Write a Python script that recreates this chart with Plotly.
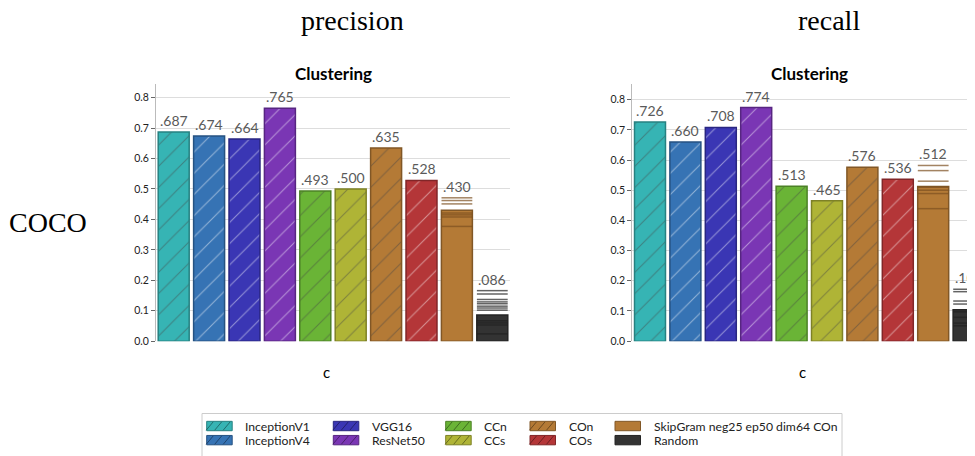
import plotly.graph_objects as go

# ---------------- data ----------------
categories = ["InceptionV1", "InceptionV4", "VGG16", "ResNet50", "CCn", "CCs",
              "COn", "COs", "SkipGram neg25 ep50 dim64 COn", "Random"]
precision = [0.687, 0.674, 0.664, 0.765, 0.493, 0.500, 0.635, 0.528, 0.430, 0.086]
recall = [0.726, 0.660, 0.708, 0.774, 0.513, 0.465, 0.576, 0.536, 0.512, 0.104]

skipgram_precision_runs = [0.471, 0.462, 0.451, 0.421, 0.415, 0.408, 0.377]
random_precision_runs = [0.166, 0.155, 0.137, 0.129, 0.123, 0.115, 0.109, 0.102,
                         0.067, 0.060, 0.053, 0.024]
skipgram_recall_runs = [0.582, 0.565, 0.530, 0.510, 0.500, 0.489, 0.439]
random_recall_runs = [0.172, 0.164, 0.133, 0.123, 0.097, 0.079, 0.060, 0.051]

hatched = [True, True, True, True, True, True, True, True, False, False]

# ---------------- styles ----------------
fill_colors = ["#36b4b4", "#3673b4", "#3a36b4", "#7a36b4", "#6ab436", "#afb436",
               "#b47a36", "#b43638", "#b47a36", "#333333"]


def darker(hexcol, f):
    r, g, b = int(hexcol[1:3], 16), int(hexcol[3:5], 16), int(hexcol[5:7], 16)
    return "#%02x%02x%02x" % (int(r * f), int(g * f), int(b * f))


edge_colors = [darker(c, 0.72) for c in fill_colors]
hatch_colors = [darker(c, 0.5) for c in fill_colors]

# the page body adds an 8px margin; the figure starts at (8, 8) in the window
OFF = 8
W, H = 975 - OFF, 456 - OFF


def px(x):
    return (x - OFF) / W


def py(y):
    return 1 - (y - OFF) / H


PX_PER_CAT = 35.4  # reference spacing between bars

FONT = "Lato"
SERIF = "Liberation Serif"

fig = go.Figure()
annotations = []


def add_panel(values, sg_runs, rnd_runs, xa, ya):
    fig.add_trace(go.Bar(
        x=categories, y=values, xaxis=xa, yaxis=ya, showlegend=False,
        marker=dict(
            color=fill_colors,
            line=dict(color=edge_colors, width=1.5),
            pattern=dict(shape=["/" if h else "" for h in hatched],
                         fgcolor="#1a1a1a", fgopacity=0.45,
                         size=15, solidity=0.07),
        ),
        hoverinfo="x+y",
    ))
    # individual runs as horizontal ticks
    for runs, idx, col in ((sg_runs, 8, "#7d5020"), (rnd_runs, 9, "#222222")):
        fig.add_trace(go.Scatter(
            x=[categories[idx]] * len(runs), y=runs, xaxis=xa, yaxis=ya,
            mode="markers", showlegend=False, opacity=0.7,
            marker=dict(symbol="line-ew", size=22,
                        line=dict(color=col, width=1.5)),
        ))
    # value labels above bar (or above the highest run tick)
    tops = list(values)
    tops[8] = max(values[8], max(sg_runs))
    tops[9] = max(values[9], max(rnd_runs))
    for cat, v, t in zip(categories, values, tops):
        annotations.append(dict(
            text=("%.3f" % v)[1:], x=cat, y=t, xref=xa, yref=ya,
            xanchor="center", yanchor="middle", yshift=11.5, showarrow=False,
            font=dict(family=FONT, size=14, color="#5a5a5a")))


add_panel(precision, skipgram_precision_runs, random_precision_runs, "x", "y")
add_panel(recall, skipgram_recall_runs, random_recall_runs, "x2", "y2")

yax = dict(showgrid=True, gridcolor="#dddddd", gridwidth=1, zeroline=False,
           showline=True, linecolor="#bbbbbb", linewidth=1,
           ticks="outside", ticklen=4, tickcolor="#666666",
           dtick=0.1, tickformat=".1f",
           tickfont=dict(family=FONT, size=10.5, color="#222222"),
           domain=[py(345.7), py(85)])
xax = dict(showticklabels=False, showgrid=False, zeroline=False, showline=False,
           ticks="", type="category", categoryorder="array",
           categoryarray=categories)

right_x0 = 632.3
right_x1 = OFF + W
right_range_hi = (right_x1 - right_x0) / PX_PER_CAT - 0.5

fig.update_layout(
    width=W, height=H,
    margin=dict(l=0, r=0, t=0, b=0),
    paper_bgcolor="white", plot_bgcolor="white",
    bargap=0.125, showlegend=False,
    xaxis=dict(xax, domain=[px(156), px(510)], range=[-0.5, 9.5]),
    xaxis2=dict(xax, domain=[px(right_x0), 1.0], range=[-0.5, right_range_hi]),
    yaxis=dict(yax, range=[0, 0.845], anchor="x"),
    yaxis2=dict(yax, range=[0, 0.852], anchor="x2"),
)


def ann(text, x, y, size, family=FONT, color="black", xanchor="center"):
    return dict(text=text, x=px(x), y=py(y), xref="paper", yref="paper",
                xanchor=xanchor, yanchor="middle", showarrow=False,
                font=dict(family=family, size=size, color=color))


annotations += [
    ann("precision", 352, 21, 28, SERIF),
    ann("recall", 829, 21, 28, SERIF),
    ann("COCO", 48, 225, 28, SERIF),
]
for cx in (333, 809):
    annotations.append(ann("<b>Clustering</b>", cx, 74, 17))
for cx in (326, 802):
    annotations.append(ann("c", cx, 377, 15))

# ---------------- legend (manual, column-major 2 rows) ----------------
legend_col_x = [206.7, 333.3, 445.7, 530.0, 615.0]
legend_row_y = [431.7, 446.0]
sw_w, sw_h = 25.5, 9.5
shapes = [dict(type="rect", xref="paper", yref="paper",
               x0=px(202), x1=px(842), y0=py(470), y1=py(419),
               line=dict(color="#cccccc", width=1), fillcolor="white", layer="below")]
for i, name in enumerate(categories):
    col, row = i // 2, i % 2
    x0 = legend_col_x[col]
    yc = legend_row_y[row]
    shapes.append(dict(type="rect", xref="paper", yref="paper",
                       x0=px(x0), x1=px(x0 + sw_w), y0=py(yc + sw_h / 2), y1=py(yc - sw_h / 2),
                       fillcolor=fill_colors[i], line=dict(color=edge_colors[i], width=1)))
    if hatched[i]:
        for k in (1.5, 10.0, 18.5):
            shapes.append(dict(type="line", xref="paper", yref="paper",
                               x0=px(x0 + k - 2), y0=py(yc + sw_h / 2 - 0.5),
                               x1=px(x0 + k + 5), y1=py(yc - sw_h / 2 + 0.5),
                               line=dict(color=hatch_colors[i], width=0.8)))
    annotations.append(ann(name, x0 + 36.5, yc, 12.2, color="#222222", xanchor="left"))

fig.update_layout(annotations=annotations, shapes=shapes)

fig.write_html("out.html")
